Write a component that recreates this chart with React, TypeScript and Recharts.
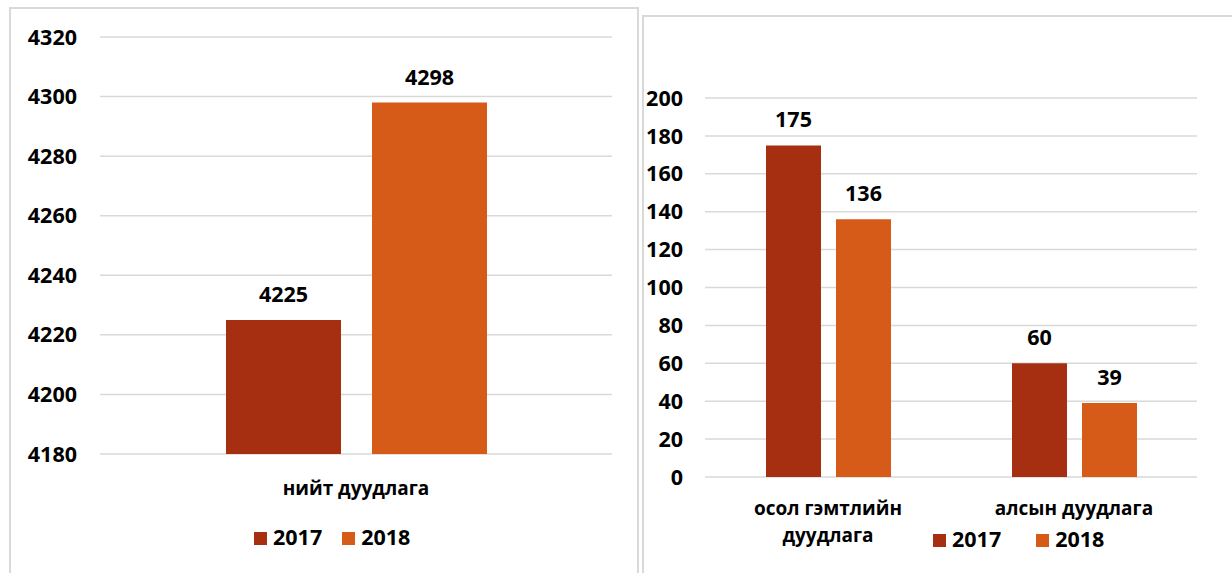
import { BarChart, Bar, XAxis, YAxis, CartesianGrid, LabelList, Legend } from "recharts";

const years = ["2017", "2018"];
const colors = ["#a52f10", "#d65a18"];

// left panel: total calls
const totalCategories = ["нийт дуудлага"];
const total2017 = [4225];
const total2018 = [4298];
const totalTicks = [4180, 4200, 4220, 4240, 4260, 4280, 4300, 4320];

// right panel: injury calls / remote calls
const typeCategories = ["осол гэмтлийн\nдуудлага", "алсын дуудлага"];
const type2017 = [175, 60];
const type2018 = [136, 39];
const typeTicks = [0, 20, 40, 60, 80, 100, 120, 140, 160, 180, 200];

const FONT = "'Open Sans', sans-serif";
const GRID = "#d9d9d9";

const totalData = totalCategories.map((name, i) => ({ name, y2017: total2017[i], y2018: total2018[i] }));
const typeData = typeCategories.map((name, i) => ({ name, y2017: type2017[i], y2018: type2018[i] }));

const textStyle = { fontFamily: FONT, fontWeight: 700, fontSize: 21.5, fill: "#000" };

function CategoryTick(props: any) {
  const { x, y, payload, drop } = props;
  const lines = String(payload.value).split("\n");
  return (
    <text x={x} y={y + drop} textAnchor="middle" fontFamily={FONT} fontWeight={700} fontSize={19} fill="#000">
      {lines.map((l, i) => (
        <tspan key={i} x={x} dy={i === 0 ? 0 : 27}>
          {l}
        </tspan>
      ))}
    </text>
  );
}

function YearLegend({ gap }: { gap: number }) {
  return (
    <div style={{ display: "flex", alignItems: "center", fontFamily: FONT, fontWeight: 700, fontSize: 21.5, lineHeight: "20px", color: "#000", whiteSpace: "nowrap" }}>
      {years.map((y, i) => (
        <div key={y} style={{ display: "flex", alignItems: "center", marginRight: i === 0 ? gap : 0 }}>
          <span style={{ display: "inline-block", width: 13, height: 13, background: colors[i], marginRight: 6, marginTop: 3 }} />
          <span>{y}</span>
        </div>
      ))}
    </div>
  );
}

export default function App() {
  return (
    <div style={{ position: "absolute", left: 0, top: 0, width: 1232, height: 573, background: "#fff", overflow: "hidden" }}>
      <div style={{ position: "absolute", left: 9, top: 7, width: 630, height: 600, border: `2px solid ${GRID}`, boxSizing: "border-box" }} />
      <div style={{ position: "absolute", left: 642, top: 15, width: 620, height: 600, border: `2px solid ${GRID}`, boxSizing: "border-box" }} />

      <div style={{ position: "absolute", left: 0, top: 0 }}>
        <BarChart width={640} height={573} data={totalData} margin={{ top: 37, right: 28, bottom: 39, left: 0 }} barGap={31}>
          <CartesianGrid vertical={false} stroke={GRID} strokeWidth={1.5} />
          <XAxis dataKey="name" axisLine={false} tickLine={false} tickSize={0} tickMargin={0} height={60} interval={0}
            tick={<CategoryTick drop={41} />} />
          <YAxis domain={[4180, 4320]} ticks={totalTicks} width={100} axisLine={false} tickLine={false} tickSize={0} tickMargin={23}
            tick={textStyle} interval={0} allowDataOverflow />
          <Bar dataKey="y2017" name="2017" fill={colors[0]} barSize={115} isAnimationActive={false}>
            <LabelList dataKey="y2017" position="top" offset={18} style={textStyle} />
          </Bar>
          <Bar dataKey="y2018" name="2018" fill={colors[1]} barSize={115} isAnimationActive={false}>
            <LabelList dataKey="y2018" position="top" offset={18} style={textStyle} />
          </Bar>
          <Legend content={() => <YearLegend gap={20} />} wrapperStyle={{ left: 254, top: 527, width: "auto", height: 20 }} />
        </BarChart>
      </div>

      <div style={{ position: "absolute", left: 643, top: 0 }}>
        <BarChart width={589} height={573} data={typeData} margin={{ top: 98, right: 35, bottom: 16, left: 0 }} barGap={15}>
          <CartesianGrid vertical={false} stroke={GRID} strokeWidth={1.5} />
          <XAxis dataKey="name" axisLine={false} tickLine={false} tickSize={0} tickMargin={0} height={60} interval={0}
            tick={<CategoryTick drop={38} />} />
          <YAxis domain={[0, 200]} ticks={typeTicks} width={62} axisLine={false} tickLine={false} tickSize={0} tickMargin={22}
            tick={textStyle} interval={0} />
          <Bar dataKey="y2017" name="2017" fill={colors[0]} barSize={55} isAnimationActive={false}>
            <LabelList dataKey="y2017" position="top" offset={18} style={textStyle} />
          </Bar>
          <Bar dataKey="y2018" name="2018" fill={colors[1]} barSize={55} isAnimationActive={false}>
            <LabelList dataKey="y2018" position="top" offset={18} style={textStyle} />
          </Bar>
          <Legend content={() => <YearLegend gap={35} />} wrapperStyle={{ left: 290, top: 529, width: "auto", height: 20 }} />
        </BarChart>
      </div>
    </div>
  );
}
